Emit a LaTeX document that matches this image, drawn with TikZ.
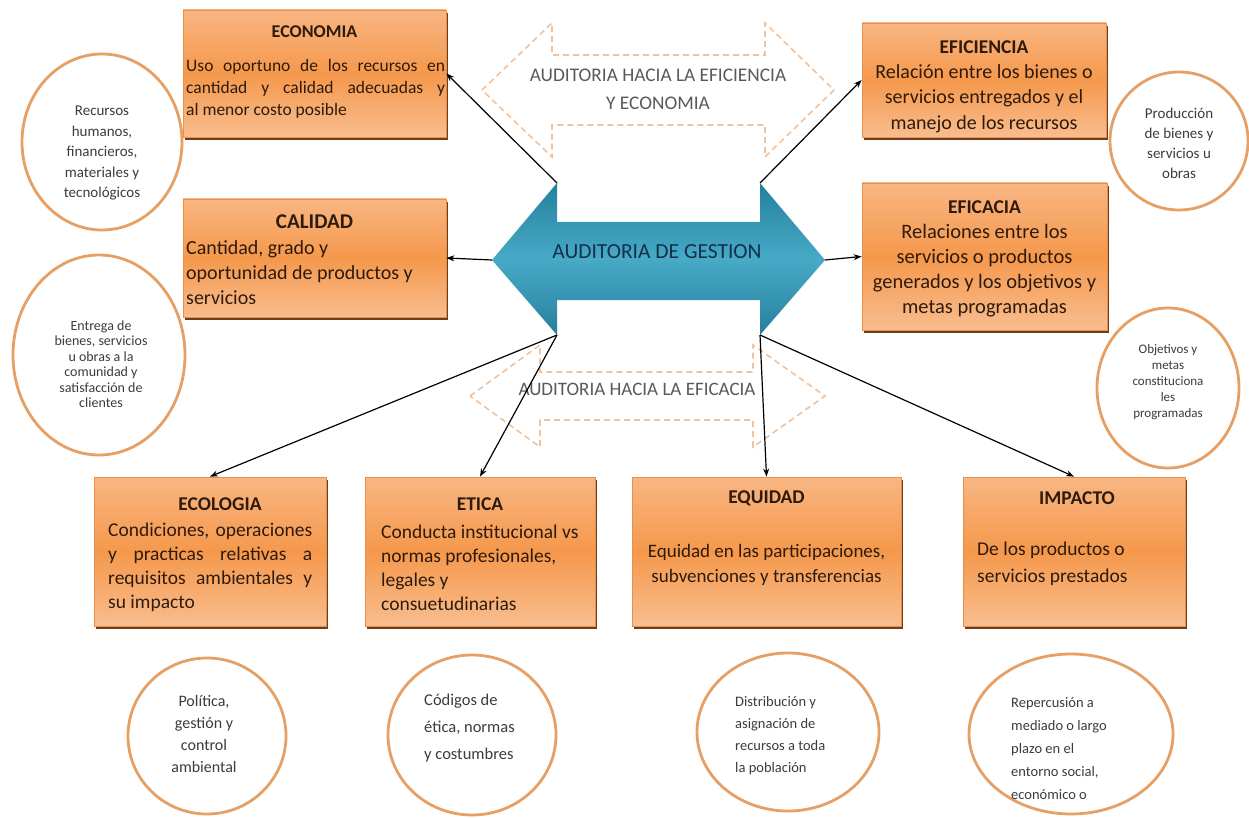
\documentclass[tikz,border=0pt]{standalone}
\usepackage{fontspec}
\setmainfont{Carlito}
\usetikzlibrary{shadows,shapes.geometric,arrows.meta}

\definecolor{boxtop}{HTML}{F8B683}
\definecolor{boxmid}{HTML}{F5984C}
\definecolor{boxbot}{HTML}{F8BD8F}
\definecolor{boxedge}{HTML}{E8904A}
\definecolor{boxshadow}{HTML}{6E3E1A}
\definecolor{ringcol}{HTML}{E6A065}
\definecolor{tealdark}{HTML}{25809E}
\definecolor{teallight}{HTML}{47AAC6}
\definecolor{navy}{HTML}{14304A}
\definecolor{dashcol}{HTML}{F3C29A}
\definecolor{captxt}{HTML}{595959}
\definecolor{boxtxt}{HTML}{2E1B0C}
\definecolor{ringtxt}{HTML}{3C3C3C}

\newcommand{\fsz}[2]{\fontsize{#1pt}{#2pt}\selectfont}
\newcommand{\jline}[2]{\makebox[#1pt][s]{#2}}

\begin{document}
\begin{tikzpicture}[x=1pt,y=-1pt,
  box/.style={rectangle, draw=boxedge, line width=0.8pt, inner sep=0pt,
    top color=boxtop, bottom color=boxbot, middle color=boxmid,
    general shadow={fill=boxshadow, shadow xshift=1.5pt, shadow yshift=-3pt}},
  ttl/.style={font=\bfseries\fsz{19.5}{23}, text=boxtxt, inner sep=0pt},
  bdy/.style={text=boxtxt, inner sep=0pt},
  ring/.style={ellipse, draw=ringcol, line width=2.8pt, fill=white, inner sep=0pt},
  ringtext/.style={text=ringtxt, inner sep=0pt},
  conn/.style={draw=black, line width=1.2pt, -{Stealth[length=8pt,width=6pt]}},
  guide/.style={draw=dashcol, line width=1.6pt, dash pattern=on 6pt off 4pt},
  caption/.style={text=captxt, inner sep=0pt, align=center}]

\fill[white] (0,0) rectangle (1249,818);
\useasboundingbox (0,0) rectangle (1249,818);

% dashed guide arrows
\draw[guide] (482,90) -- (552,23) -- (552,55) -- (765,55) -- (765,23) -- (834,90)
  -- (765,157) -- (765,125) -- (552,125) -- (552,157) -- cycle;
\node[caption, font=\fsz{19.3}{28}] (capA) at (658,89) {AUDITORIA HACIA LA EFICIENCIA\\Y ECONOMIA};

\draw[guide] (470,396) -- (540,345) -- (540,372) -- (753,372) -- (753,345) -- (825,396)
  -- (753,447) -- (753,420) -- (540,420) -- (540,447) -- cycle;
\node[caption, font=\fsz{19}{23}] (capB) at (637,389) {AUDITORIA HACIA LA EFICACIA};

% central double arrow
\shade[top color=tealdark, bottom color=tealdark, middle color=teallight]
  (492,260) -- (557,183) -- (557,222) -- (760,222) -- (760,183) -- (825,260)
  -- (760,335) -- (760,300) -- (557,300) -- (557,335) -- cycle;
\node[text=navy, inner sep=0pt, font=\fsz{21.5}{25}] (hub) at (657,252) {AUDITORIA DE GESTION};
\coordinate (hubTL) at (557,183);
\coordinate (hubTR) at (760,183);
\coordinate (hubL) at (492,260);
\coordinate (hubR) at (825,260);
\coordinate (hubBL) at (557,335);
\coordinate (hubBR) at (760,335);

% boxes
\node[box, minimum width=263, minimum height=127] (eco) at (314.5,73.5) {};
\node[ttl, font=\bfseries\fsz{18}{22}] (ecoT) at (314.5,32) {ECONOMIA};
\node[bdy, font=\fsz{17.5}{21.7}, align=left, anchor=west] (ecoB) at (186,89)
  {\jline{259}{Uso oportuno de los recursos en}\\\jline{259}{cantidad y calidad adecuadas y}\\al menor costo posible};

\node[box, minimum width=263, minimum height=118] (cal) at (314.5,258) {};
\node[ttl, font=\bfseries\fsz{21}{25}] (calT) at (314.5,222) {CALIDAD};
\node[bdy, font=\fsz{20}{25}, align=left, anchor=west] (calB) at (186,272.5)
  {Cantidad, grado y\\oportunidad de productos y\\servicios};

\node[box, minimum width=244, minimum height=114] (efi) at (984,80) {};
\node[ttl] (efiT) at (984,47) {EFICIENCIA};
\node[bdy, font=\fsz{20}{25.5}, align=center] (efiB) at (984,98.5)
  {Relación entre los bienes o\\servicios entregados y el\\manejo de los recursos};

\node[box, minimum width=245, minimum height=147] (efa) at (984.5,256.5) {};
\node[ttl] (efaT) at (984.5,207) {EFICACIA};
\node[bdy, font=\fsz{20.5}{25}, align=center] (efaB) at (984.5,271)
  {Relaciones entre los\\servicios o productos\\generados y los objetivos y\\metas programadas};

\node[box, minimum width=232, minimum height=149] (ecol) at (210,551.5) {};
\node[ttl] (ecolT) at (220,504) {ECOLOGIA};
\node[bdy, font=\fsz{19.5}{24}, align=left, anchor=west] (ecolB) at (108,567.5)
  {\jline{204}{Condiciones, operaciones}\\\jline{204}{y practicas relativas a}\\\jline{204}{requisitos ambientales y}\\su impacto};

\node[box, minimum width=230, minimum height=149] (eti) at (480,551.5) {};
\node[ttl] (etiT) at (480,504) {ETICA};
\node[bdy, font=\fsz{19.5}{24}, align=left, anchor=west] (etiB) at (381,568)
  {Conducta institucional vs\\normas profesionales,\\legales y\\consuetudinarias};

\node[box, minimum width=269, minimum height=149] (equ) at (766.5,551.5) {};
\node[ttl] (equT) at (766.5,498) {EQUIDAD};
\node[bdy, font=\fsz{19}{25}, align=center] (equB) at (766.5,565)
  {Equidad en las participaciones,\\subvenciones y transferencias};

\node[box, minimum width=222, minimum height=149] (imp) at (1074,551.5) {};
\node[ttl] (impT) at (1077,498) {IMPACTO};
\node[bdy, font=\fsz{19.5}{27}, align=left, anchor=west] (impB) at (977,564)
  {De los productos o\\servicios prestados};

% connectors
\draw[conn] (hubTL) -- (eco.east);
\draw[conn] (hubTR) -- (efi.west);
\draw[conn] (hubL) -- (cal.east);
\draw[conn] (hubR) -- (efa.west);
\draw[conn] (hubBL) -- (ecol.north);
\draw[conn] (hubBL) -- (eti.north);
\draw[conn] (hubBR) -- (equ.north);
\draw[conn] (hubBR) -- (imp.north);

% rings
\node[ring, minimum width=160, minimum height=176] (r1) at (102,142) {};
\node[ringtext, font=\fsz{15}{20.5}, align=center] (r1t) at (102,153)
  {Recursos\\humanos,\\financieros,\\materiales y\\tecnológicos};

\node[ring, minimum width=172, minimum height=200] (r2) at (99,355) {};
\node[ringtext, font=\fsz{14}{15.5}, align=center] (r2t) at (101,364)
  {Entrega de\\bienes, servicios\\u obras a la\\comunidad y\\satisfacción de\\clientes};

\node[ring, minimum width=138, minimum height=138] (r3) at (1179,141) {};
\node[ringtext, font=\fsz{15}{20}, align=center] (r3t) at (1179,143)
  {Producción\\de bienes y\\servicios u\\obras};

\node[ring, minimum width=142, minimum height=160] (r4) at (1168,388) {};
\node[ringtext, font=\fsz{13}{16}, align=center] (r4t) at (1168,382)
  {Objetivos y\\metas\\constituciona\\les\\programadas};

\node[ring, minimum width=158, minimum height=156] (r5) at (207,736) {};
\node[ringtext, font=\fsz{16}{22}, align=center] (r5t) at (204,734)
  {Política,\\gestión y\\control\\ambiental};

\node[ring, minimum width=168, minimum height=160] (r6) at (472,735) {};
\node[ringtext, font=\fsz{16.5}{27}, align=left, anchor=west] (r6t) at (424,728)
  {Códigos de\\ética, normas\\y costumbres};

\node[ring, minimum width=182, minimum height=158] (r7) at (788,732) {};
\node[ringtext, font=\fsz{14.5}{22}, align=left, anchor=west] (r7t) at (735,736)
  {Distribución y\\asignación de\\recursos a toda\\la población};

\node[ring, minimum width=204, minimum height=160] (r8) at (1071,734) {};
\node[ringtext, font=\fsz{14.5}{23}, align=left, anchor=west] (r8t) at (1011,749)
  {Repercusión a\\mediado o largo\\plazo en el\\entorno social,\\económico o};

\end{tikzpicture}
\end{document}
